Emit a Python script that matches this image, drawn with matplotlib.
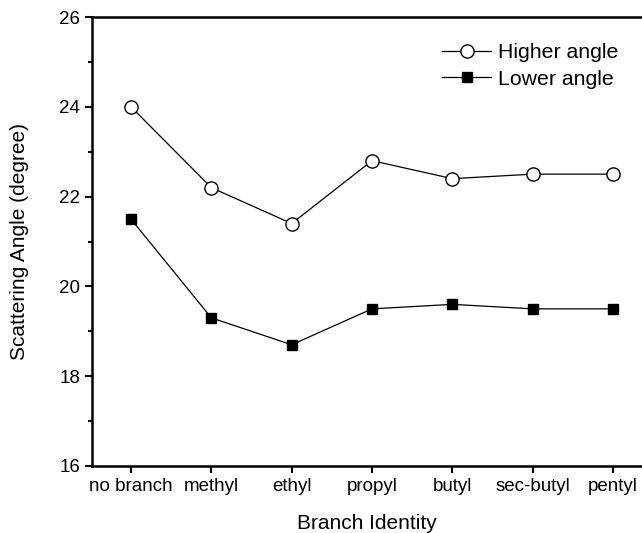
import numpy as np
import matplotlib.pyplot as plt
from matplotlib.ticker import MultipleLocator

plt.rcParams['font.family'] = ['Liberation Sans', 'DejaVu Sans']

branches = ["no branch", "methyl", "ethyl", "propyl", "butyl", "sec-butyl", "pentyl"]
higher_angle = [24.0, 22.2, 21.4, 22.8, 22.4, 22.5, 22.5]
lower_angle = [21.5, 19.3, 18.7, 19.5, 19.6, 19.5, 19.5]

fig = plt.figure(figsize=(6.42, 5.33), dpi=100)
ax = fig.add_axes([92 / 642, 1 - 466 / 533, 1 - 92 / 642, (466 - 17) / 533])

x = np.arange(len(branches))
ax.plot(x, higher_angle, color='black', lw=0.9, marker='o', ms=9.5,
        mfc='white', mec='black', mew=1.0, label='Higher angle')
ax.plot(x, lower_angle, color='black', lw=0.9, marker='s', ms=7.2,
        mfc='black', mec='black', label='Lower angle')

ax.set_xlim(-0.485, 6.36)
ax.set_ylim(16, 26)
ax.set_xticks(x)
ax.set_xticklabels(branches)
ax.yaxis.set_major_locator(MultipleLocator(2))
ax.yaxis.set_minor_locator(MultipleLocator(1))
ax.tick_params(axis='both', which='major', direction='out', length=5, width=1.5, labelsize=13.5)
ax.tick_params(axis='y', which='minor', direction='out', length=3, width=1.5)

ax.spines['right'].set_visible(False)
for s in ['left', 'bottom', 'top']:
    ax.spines[s].set_linewidth(1.8)

ax.set_xlabel('Branch Identity', fontsize=15, labelpad=14)
ax.set_ylabel('Scattering Angle (degree)', fontsize=15, labelpad=22)

ax.legend(loc='upper right', bbox_to_anchor=(0.985, 0.975), frameon=False,
          fontsize=15.3, handlelength=2.3, handletextpad=0.35, labelspacing=0.35,
          borderaxespad=0.3)

fig.savefig('out.png', dpi=100)
